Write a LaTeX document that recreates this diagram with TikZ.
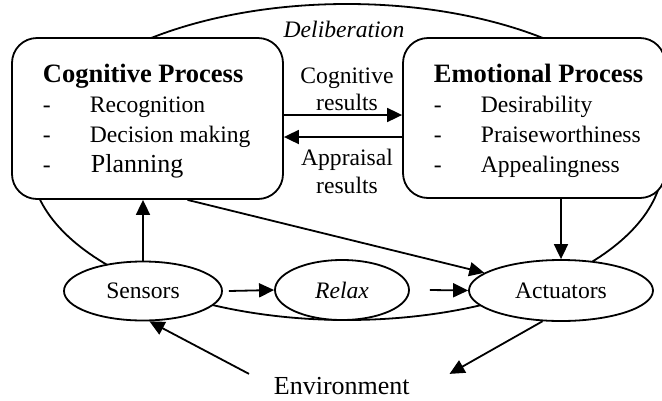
\documentclass[tikz,border=0pt]{standalone}
\usepackage{fontspec}
\setmainfont{Liberation Serif}
\usetikzlibrary{arrows.meta,shapes.geometric}
\begin{document}
\begin{tikzpicture}[x=1pt,y=-1pt,
  line width=1.8pt,
  arr/.style={-{Triangle[length=15pt,width=14pt]}},
  procbox/.style={draw,fill=white,rounded corners=25pt,inner sep=0pt},
  oval/.style={draw,ellipse,fill=white,inner sep=0pt,font=\fontsize{23.6}{28}\selectfont},
  head/.style={anchor=base west,inner sep=0pt,font=\fontsize{26.5}{30}\selectfont\bfseries},
  item/.style={anchor=base west,inner sep=0pt,font=\fontsize{23.6}{28}\selectfont},
  lbl/.style={anchor=base,inner sep=0pt,font=\fontsize{23.6}{28}\selectfont}]
\useasboundingbox (0,0) rectangle (662,400);
% deliberation ellipse
\draw (347,162) ellipse [x radius=316, y radius=158];
\node[lbl,font=\fontsize{23.6}{28}\selectfont\itshape] (delib) at (344,37) {Deliberation};
% process boxes
\node[procbox,minimum width=271pt,minimum height=161pt] (cog) at (147.5,118.5) {};
\node[procbox,minimum width=262pt,minimum height=160pt] (emo) at (534,118) {};
% cognitive text
\node[head] (cogh) at (42,82) {Cognitive Process};
\node[item] (cd1) at (42,112) {-};
\node[item] (cd2) at (42,142) {-};
\node[item] (cd3) at (42,172) {-};
\node[item] (ci1) at (89,112) {Recognition};
\node[item] (ci2) at (89,142) {Decision making};
\node[item,font=\fontsize{26}{30}\selectfont] (ci3) at (90,172) {Planning};
% emotional text
\node[head] (emoh) at (433,82) {Emotional Process};
\node[item] (ed1) at (433,112) {-};
\node[item] (ed2) at (433,142) {-};
\node[item] (ed3) at (433,172) {-};
\node[item] (ei1) at (480,112) {Desirability};
\node[item] (ei2) at (480,142) {Praiseworthiness};
\node[item] (ei3) at (480,172) {Appealingness};
% middle labels
\node[lbl] (cr1) at (347,83) {Cognitive};
\node[lbl] (cr2) at (347,110) {results};
\node[lbl] (ar1) at (347,165) {Appraisal};
\node[lbl] (ar2) at (347,193) {results};
\draw[arr] (cog.east |- 0,115) -- (emo.west |- 0,115);
\draw[arr] (emo.west |- 0,137) -- (cog.east |- 0,137);
% ovals
\node[oval,minimum width=158pt,minimum height=59pt] (sens) at (143,291) {Sensors};
\node[oval,minimum width=134pt,minimum height=60pt] (relax) at (342,290) {\itshape Relax};
\node[oval,minimum width=184pt,minimum height=61pt] (act) at (561,290.5) {Actuators};
\node[item,font=\fontsize{26}{30}\selectfont] (env) at (273,394) {Environment};
% connectors
\draw[arr] (sens.north) -- (sens.north |- cog.south);
\draw[arr] ([xshift=6pt]sens.east) -- (relax.west);
\draw[arr] ([xshift=20pt]relax.east) -- (act.west);
\draw[arr] ([xshift=40pt]cog.south) -- (act.167);
\draw[arr] (act.north |- emo.south) -- (act.north);
\draw[arr] (act.239) -- ([xshift=39pt,yshift=2pt]env.north east);
\draw[arr] ([xshift=-24pt,yshift=2pt]env.north west) -- (sens.282);
\end{tikzpicture}
\end{document}
